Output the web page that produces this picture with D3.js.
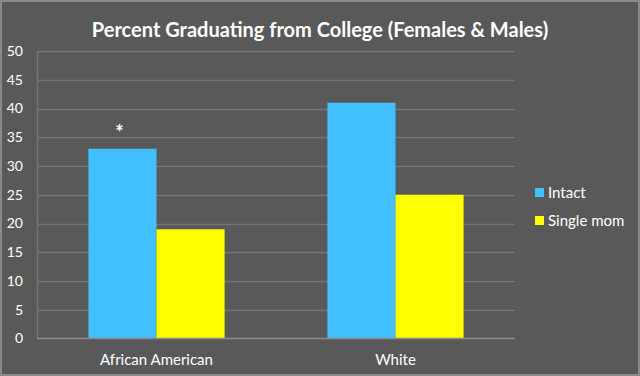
<!DOCTYPE html>
<html><head><meta charset="utf-8">
<script src="https://cdn.jsdelivr.net/npm/d3@7"></script>
<style>body{margin:0;background:#595959}svg{display:block}</style>
</head><body>
<svg id="c" width="640" height="376"></svg>
<script>
const categories = ["African American", "White"];
const seriesNames = ["Intact", "Single mom"];
const intact = [33, 41];
const singleMom = [19, 25];
const yTicks = [0, 5, 10, 15, 20, 25, 30, 35, 40, 45, 50];
const colors = ["#41BFFF", "#FFFF00"];
const title = "Percent Graduating from College (Females & Males)";
const annotation = "*";

const svg = d3.select("#c");
const W = 640, H = 376;
const m = {left: 37, right: 125, top: 51, bottom: 37.5};
const font = "Lato, 'Open Sans', sans-serif";

svg.append("rect").attr("x",1).attr("y",1).attr("width",W-2).attr("height",H-2)
  .attr("fill","#595959").attr("stroke","#8a8a8a").attr("stroke-width",2);

const x0 = d3.scaleBand().domain(categories).range([m.left, W-m.right]);
const x1 = d3.scaleBand().domain(seriesNames).range([0, x0.bandwidth()]).paddingInner(0).paddingOuter(0.755);
const y = d3.scaleLinear().domain([0,50]).range([H-m.bottom, m.top]);

// gridlines
svg.append("g").selectAll("line").data(yTicks.filter(d=>d>0)).join("line")
  .attr("x1", m.left).attr("x2", W-m.right)
  .attr("y1", d=>Math.round(y(d))+0.5).attr("y2", d=>Math.round(y(d))+0.5)
  .attr("stroke","#757575").attr("stroke-width",1.5);
// left axis line
svg.append("line").attr("x1",m.left+0.5).attr("x2",m.left+0.5).attr("y1",y(50)).attr("y2",y(0))
  .attr("stroke","#757575").attr("stroke-width",1.5);

const data = categories.map((c,i)=>({cat:c, vals:[intact[i], singleMom[i]]}));
const g = svg.append("g").selectAll("g").data(data).join("g")
  .attr("transform", d=>`translate(${x0(d.cat)},0)`);
g.selectAll("rect").data(d=>d.vals.map((v,j)=>({s:seriesNames[j], v, j}))).join("rect")
  .attr("x", d=>x1(d.s)).attr("width", x1.bandwidth())
  .attr("y", d=>y(d.v)).attr("height", d=>y(0)-y(d.v))
  .attr("fill", d=>colors[d.j]);

// zero axis line
svg.append("line").attr("x1",m.left).attr("x2",W-m.right).attr("y1",y(0)).attr("y2",y(0))
  .attr("stroke","#8c8c8c").attr("stroke-width",1.5);

// y tick labels
svg.append("g").selectAll("text").data(yTicks).join("text")
  .attr("x", 23).attr("y", d=>y(d)).attr("dy","0.35em").attr("text-anchor","end")
  .attr("fill","#ffffff").attr("font-family",font).attr("font-size",14).text(d=>d);

// x labels
svg.append("g").selectAll("text").data(categories).join("text")
  .attr("x", d=>x0(d)+x0.bandwidth()/2).attr("y", 365).attr("text-anchor","middle")
  .attr("fill","#ffffff").attr("font-family",font).attr("font-size",15).text(d=>d);

// title
svg.append("text").attr("x", 320).attr("y", 36.5).attr("text-anchor","middle")
  .attr("fill","#ffffff").attr("font-family",font).attr("font-weight","bold").attr("font-size",20).text(title);

// annotation
svg.append("text").attr("x", x0(categories[0]) + x1(seriesNames[0]) + x1.bandwidth()/2 - 3).attr("y", 140)
  .attr("text-anchor","middle").attr("fill","#ffffff").attr("font-family",font).attr("font-weight","bold").attr("font-size",20).text(annotation);

// legend
const lg = svg.append("g").selectAll("g").data(seriesNames).join("g")
  .attr("transform",(d,i)=>`translate(535,${188 + i*28})`);
lg.append("rect").attr("width",9).attr("height",9).attr("fill",(d,i)=>colors[i]);
lg.append("text").attr("x",13).attr("y",10).attr("fill","#ffffff").attr("font-family",font).attr("font-size",15).text(d=>d);
</script>
</body></html>
